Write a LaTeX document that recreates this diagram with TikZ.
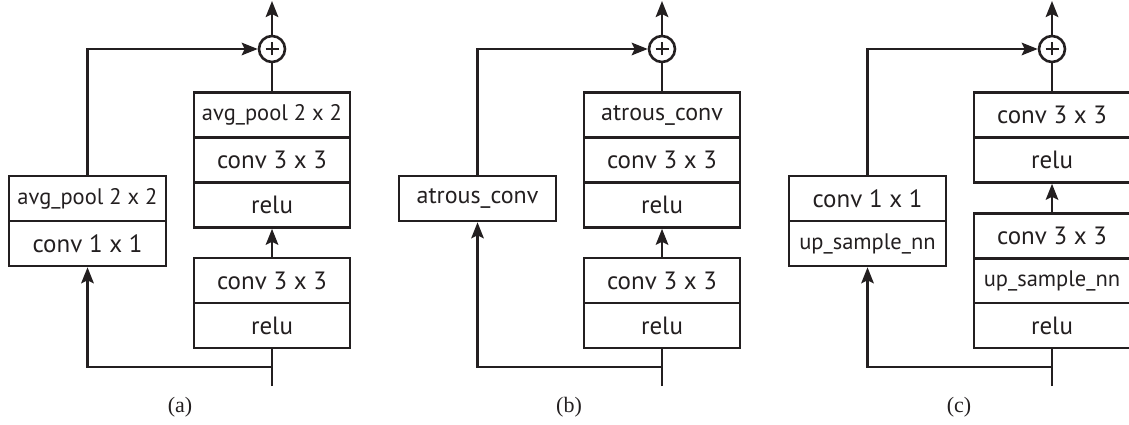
\documentclass[tikz,border=0pt]{standalone}
\usepackage{fontspec}
\setsansfont{PT Sans}
\newfontfamily\capfont{Liberation Serif}
\usetikzlibrary{arrows.meta}
\definecolor{ink}{HTML}{231F20}
\tikzset{
  layer/.style={draw=ink, line width=2.6pt, rectangle, minimum width=156pt,
    minimum height=45pt, inner sep=0pt, text=ink, font=\sffamily\fontsize{25}{25}\selectfont},
  small/.style={font=\sffamily\fontsize{22.5}{22.5}\selectfont},
  mid/.style={font=\sffamily\fontsize{24}{24}\selectfont},
  sumnode/.style={draw=ink, line width=2.6pt, circle, minimum size=26pt, inner sep=0pt},
  wire/.style={draw=ink, line width=2.6pt},
  flow/.style={wire, -{Stealth[length=16pt, width=12.5pt, inset=3pt]}},
  caption/.style={text=ink, font=\capfont\fontsize{22}{22}\selectfont},
}
\begin{document}
\begin{tikzpicture}[x=1pt, y=-1pt]
\useasboundingbox (0,0) rectangle (1129,425);

% ---------- (a) ----------
\node[layer, small, minimum width=157pt] (aL1) at (87.5,198.5) {avg\_pool 2 x 2};
\node[layer, minimum width=157pt] (aL2) at (87.5,243.5) {conv 1 x 1};
\node[layer, small] (aR1) at (272,115) {avg\_pool 2 x 2};
\node[layer] (aR2) at (272,160) {conv 3 x 3};
\node[layer] (aR3) at (272,205) {relu};
\node[layer] (aR4) at (272,280.5) {conv 3 x 3};
\node[layer] (aR5) at (272,325.5) {relu};
\node[sumnode] (aS) at (272,49) {};
\draw[ink, line width=1.7pt] ([xshift=-6.5pt]aS.center) -- ([xshift=6.5pt]aS.center)
  ([yshift=-6.5pt]aS.center) -- ([yshift=6.5pt]aS.center);
\coordinate (aIn) at (272,386);
\coordinate (aBr) at (272,367);
\coordinate (aOut) at (272,1);
\draw[wire] (aIn) -- (aR5.south);
\draw[flow] (aR4.north) -- (aR3.south);
\draw[wire] (aR1.north) -- (aS.south);
\draw[flow] (aS.north) -- (aOut);
\draw[flow] (aBr) -| (aL2.south);
\draw[flow] (aL1.north) |- (aS.west);
\node[caption] (aCap) at (180,407) {(a)};

% ---------- (b) ----------
\node[layer, mid, minimum width=157pt] (bL1) at (477.5,198.5) {atrous\_conv};
\node[layer, mid] (bR1) at (662,115) {atrous\_conv};
\node[layer] (bR2) at (662,160) {conv 3 x 3};
\node[layer] (bR3) at (662,205) {relu};
\node[layer] (bR4) at (662,280.5) {conv 3 x 3};
\node[layer] (bR5) at (662,325.5) {relu};
\node[sumnode] (bS) at (662,49) {};
\draw[ink, line width=1.7pt] ([xshift=-6.5pt]bS.center) -- ([xshift=6.5pt]bS.center)
  ([yshift=-6.5pt]bS.center) -- ([yshift=6.5pt]bS.center);
\coordinate (bIn) at (662,386);
\coordinate (bBr) at (662,367);
\coordinate (bOut) at (662,1);
\draw[wire] (bIn) -- (bR5.south);
\draw[flow] (bR4.north) -- (bR3.south);
\draw[wire] (bR1.north) -- (bS.south);
\draw[flow] (bS.north) -- (bOut);
\draw[flow] (bBr) -| (bL1.south);
\draw[flow] (bL1.north) |- (bS.west);
\node[caption] (bCap) at (569,407) {(b)};

% ---------- (c) ----------
\node[layer, minimum width=157pt] (cL1) at (867.5,198.5) {conv 1 x 1};
\node[layer, small, minimum width=157pt] (cL2) at (867.5,243.5) {up\_sample\_nn};
\node[layer] (cR1) at (1052,115) {conv 3 x 3};
\node[layer] (cR2) at (1052,160) {relu};
\node[layer] (cR3) at (1052,236) {conv 3 x 3};
\node[layer, small] (cR4) at (1052,280.5) {up\_sample\_nn};
\node[layer] (cR5) at (1052,325.5) {relu};
\node[sumnode] (cS) at (1052,49) {};
\draw[ink, line width=1.7pt] ([xshift=-6.5pt]cS.center) -- ([xshift=6.5pt]cS.center)
  ([yshift=-6.5pt]cS.center) -- ([yshift=6.5pt]cS.center);
\coordinate (cIn) at (1052,386);
\coordinate (cBr) at (1052,367);
\coordinate (cOut) at (1052,1);
\draw[wire] (cIn) -- (cR5.south);
\draw[flow] (cR3.north) -- (cR2.south);
\draw[wire] (cR1.north) -- (cS.south);
\draw[flow] (cS.north) -- (cOut);
\draw[flow] (cBr) -| (cL2.south);
\draw[flow] (cL1.north) |- (cS.west);
\node[caption] (cCap) at (959,407) {(c)};
\end{tikzpicture}
\end{document}
